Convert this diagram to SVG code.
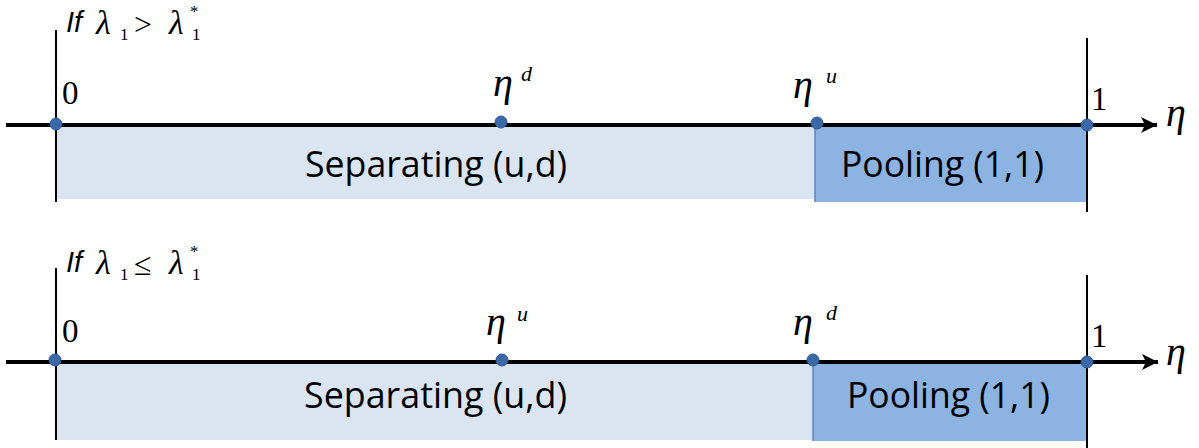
<svg xmlns="http://www.w3.org/2000/svg" width="1199" height="448" viewBox="0 0 1199 448">
<style>
.light{fill:#dbe5f1}
.dark{fill:#8db3e2}
.div{stroke:#5b86c0;stroke-width:1.5}
.vline{stroke:#000;stroke-width:2}
.axis{stroke:#000;stroke-width:4}
.dot{fill:#3b68a6;stroke:#2f5a93;stroke-width:1}
.region{font-family:"Open Sans","Liberation Sans",sans-serif;font-size:37px;fill:#000}
.num{font-family:"Liberation Serif",serif;font-size:33px;fill:#000}
.eta{font-family:"Liberation Serif",serif;font-style:italic;font-size:40px;fill:#000}
.sup{font-family:"Liberation Serif",serif;font-style:italic;font-size:22px;fill:#000}
.cond{font-family:"Liberation Sans",sans-serif;font-style:italic;font-size:29px;fill:#000}
.lam{font-family:"Liberation Serif",serif;font-style:italic;font-size:34px;fill:#000}
.sub{font-family:"Liberation Serif",serif;font-size:17px;fill:#000}
.op{font-family:"Liberation Serif",serif;font-size:32px;fill:#000}
</style>
<defs>
<marker id="arr" markerWidth="18" markerHeight="18" refX="16" refY="9" orient="auto" markerUnits="userSpaceOnUse">
<path d="M0,1 L16,9 L0,17 L4,9 Z" fill="#000"/>
</marker>
</defs>

<!-- Top panel -->
<g id="top-condition">
<text class="cond" x="66" y="32">If</text>
<text class="lam" x="96" y="34">λ</text>
<text class="sub" x="120" y="40">1</text>
<text class="op" x="134" y="35">&gt;</text>
<text class="lam" x="169" y="34">λ</text>
<text class="sub" x="192" y="40">1</text>
<text class="sub" x="190" y="17">*</text>
</g>
<g id="top-separating">
<rect class="light" x="56" y="127" width="759" height="72"/>
<text class="region" x="305" y="177" textLength="262" lengthAdjust="spacingAndGlyphs">Separating (u,d)</text>
</g>
<g id="top-pooling">
<rect class="dark" x="815" y="127" width="272" height="75"/>
<line class="div" x1="815" y1="127" x2="815" y2="202"/>
<text class="region" x="841" y="177" textLength="203" lengthAdjust="spacingAndGlyphs">Pooling (1,1)</text>
</g>
<g id="top-connectors">
<line class="vline" x1="56" y1="30" x2="56" y2="202"/>
<line class="vline" x1="1087" y1="38" x2="1087" y2="212"/>
<line class="axis" x1="6" y1="125" x2="1157" y2="125" marker-end="url(#arr)"/>
</g>
<g id="top-p0">
<circle class="dot" cx="56" cy="124" r="6"/>
<text class="num" x="62" y="104">0</text>
</g>
<g id="top-pd">
<circle class="dot" cx="501" cy="122" r="6"/>
<text class="eta" x="493" y="96">η</text>
<text class="sup" x="521" y="81">d</text>
</g>
<g id="top-pu">
<circle class="dot" cx="817" cy="123" r="6"/>
<text class="eta" x="793" y="98">η</text>
<text class="sup" x="826" y="83">u</text>
</g>
<g id="top-p1">
<circle class="dot" cx="1087" cy="125" r="6"/>
<text class="num" x="1091" y="110">1</text>
</g>
<g id="top-eta">
<text class="eta" x="1166" y="126">η</text>
</g>

<!-- Bottom panel -->
<g id="bottom-condition">
<text class="cond" x="66" y="272">If</text>
<text class="lam" x="96" y="274">λ</text>
<text class="sub" x="120" y="280">1</text>
<text class="op" x="134" y="275">≤</text>
<text class="lam" x="169" y="274">λ</text>
<text class="sub" x="192" y="280">1</text>
<text class="sub" x="190" y="257">*</text>
</g>
<g id="bottom-separating">
<rect class="light" x="56" y="364" width="758" height="76"/>
<text class="region" x="304" y="408" textLength="263" lengthAdjust="spacingAndGlyphs">Separating (u,d)</text>
</g>
<g id="bottom-pooling">
<rect class="dark" x="813" y="364" width="274" height="77"/>
<line class="div" x1="813" y1="364" x2="813" y2="441"/>
<text class="region" x="847" y="408" textLength="203" lengthAdjust="spacingAndGlyphs">Pooling (1,1)</text>
</g>
<g id="bottom-connectors">
<line class="vline" x1="56" y1="268" x2="56" y2="440"/>
<line class="vline" x1="1087" y1="275" x2="1087" y2="448"/>
<line class="axis" x1="6" y1="362" x2="1158" y2="362" marker-end="url(#arr)"/>
</g>
<g id="bottom-p0">
<circle class="dot" cx="55" cy="360" r="6"/>
<text class="num" x="62" y="342">0</text>
</g>
<g id="bottom-pu">
<circle class="dot" cx="502" cy="360" r="6"/>
<text class="eta" x="486" y="335">η</text>
<text class="sup" x="517" y="321">u</text>
</g>
<g id="bottom-pd">
<circle class="dot" cx="813" cy="360" r="6"/>
<text class="eta" x="793" y="335">η</text>
<text class="sup" x="826" y="320">d</text>
</g>
<g id="bottom-p1">
<circle class="dot" cx="1087" cy="362" r="6"/>
<text class="num" x="1091" y="347">1</text>
</g>
<g id="bottom-eta">
<text class="eta" x="1166" y="365">η</text>
</g>
</svg>
